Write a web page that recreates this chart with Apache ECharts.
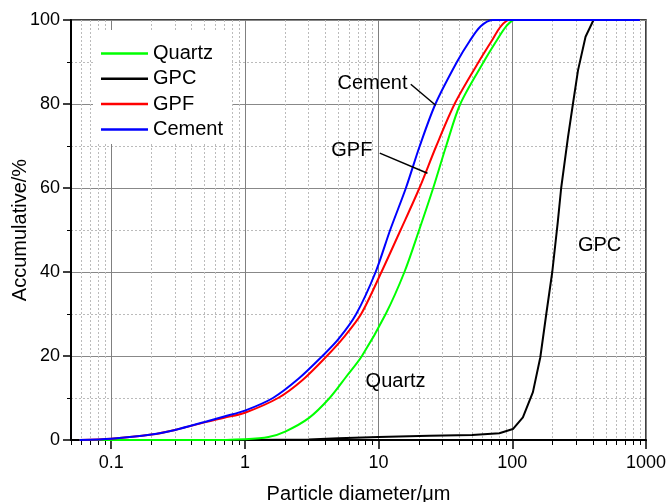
<!DOCTYPE html>
<html>
<head>
<meta charset="utf-8">
<script src="https://cdn.jsdelivr.net/npm/echarts@6/dist/echarts.min.js"></script>
<style>
  html, body { margin: 0; padding: 0; background: #fff; }
  #chart { width: 667px; height: 502px; }
</style>
</head>
<body>
<div id="chart"></div>
<script>
// particle size (um) vs cumulative %
const quartz = [[0.058, 0], [0.5, 0], [1, 0.2], [1.5, 0.7], [2, 2.0], [3, 5.2], [4.3, 10], [5.7, 15], [7.5, 20],
  [11.3, 30], [15.6, 40], [20.1, 50], [25.6, 60], [32, 70], [40.8, 80], [61, 90], [76, 95], [90, 98.5],
  [104, 100], [900, 100]];
const gpc = [[1, 0], [3, 0.1], [5, 0.4], [10, 0.7], [24, 1.0], [50, 1.2], [80, 1.6], [101, 2.6], [120, 5.4],
  [142.6, 11.4], [162, 19.7], [179.5, 30], [199, 40], [219, 52], [232, 60], [260.6, 72], [284, 80],
  [310, 88], [353, 96], [405, 100], [900, 100]];
const gpf = [[0.058, 0], [0.1, 0.3], [0.2, 1.3], [0.3, 2.4], [0.5, 4.2], [0.7, 5.3], [1, 6.5], [1.77, 10],
  [2.7, 14.3], [4.1, 20], [5.5, 24.5], [7.4, 30], [10.5, 40], [14.6, 50], [20.2, 60], [27, 70], [37, 80],
  [56, 90], [70, 95], [82, 98.5], [95, 100], [900, 100]];
const cement = [[0.058, 0], [0.1, 0.3], [0.2, 1.3], [0.3, 2.4], [0.5, 4.3], [0.7, 5.6], [1, 7.0], [1.62, 10],
  [2.5, 14.5], [3.8, 20], [5, 24], [6.8, 30], [9.5, 40], [12.2, 50], [16, 60], [20.3, 70], [26.6, 80],
  [38.5, 90], [48, 95], [58, 98.5], [71, 100], [900, 100]];

const seriesNames = ['Quartz', 'GPC', 'GPF', 'Cement'];
const majorTicks = [0.1, 1, 10, 100, 1000];
const minorTicks = [];
[0.01, 0.1, 1, 10, 100].forEach(d => {
  for (let k = 2; k <= 9; k++) {
    const v = +(d * k).toPrecision(3);
    if (v >= 0.05 && v <= 1000) minorTicks.push(v);
  }
});

// text labels and arrows, in data coordinates
const cementLabel = [9.0, 85.0];
const gpfLabel = [6.3, 69.0];
const quartzLabel = [13.4, 14.0];
const gpcLabel = [450, 46.3];
const cementArrow = [[17.4, 84.7], [26.7, 79.7]];
const gpfArrow = [[10.2, 68.3], [23.2, 63.5]];

const FONT = 'Liberation Sans, Arial, sans-serif';
const chart = echarts.init(document.getElementById('chart'));

const note = (pos, text) => ({
  symbol: 'circle', symbolSize: 0, silent: true,
  label: { show: true, position: 'inside', color: '#000', fontSize: 20, fontFamily: FONT },
  data: [{ coord: pos, value: text, label: { formatter: text } }]
});
const arrow = (pts) => ({
  silent: true, symbol: ['none', 'arrow'], symbolSize: [0, 10],
  label: { show: false },
  lineStyle: { color: '#000', width: 1.5, type: 'solid' },
  emphasis: { disabled: true },
  data: [[{ coord: pts[0] }, { coord: pts[1] }]]
});

const line = (name, data, color, smooth, extra) => Object.assign({
  name, type: 'line', data, smooth,
  symbol: 'none', showSymbol: false,
  lineStyle: { color, width: 2 }, itemStyle: { color },
  emphasis: { disabled: true },
  xAxisIndex: 0, yAxisIndex: 0
}, extra || {});

const gridBox = { left: 71, top: 20, right: 21, bottom: 62, containLabel: false, outerBoundsMode: 'none' };

chart.setOption({
  animation: false,
  textStyle: { fontFamily: FONT },
  grid: [
    Object.assign({ show: true, borderColor: '#000', borderWidth: 1.5, backgroundColor: 'transparent' }, gridBox),
    Object.assign({ show: false }, gridBox)
  ],
  legend: {
    data: seriesNames,
    orient: 'vertical',
    left: 93, top: 30,
    backgroundColor: '#fff',
    padding: [13, 9, 4, 8],
    icon: 'rect', itemWidth: 47, itemHeight: 2.5, itemGap: 4.3,
    textStyle: { fontSize: 20, color: '#000', fontFamily: FONT, lineHeight: 21 },
    selectedMode: false
  },
  xAxis: [
    {
      type: 'log', logBase: 10, min: 0.05, max: 1000, gridIndex: 0, position: 'bottom',
      name: 'Particle diameter/μm', nameLocation: 'middle', nameGap: 44, nameMoveOverlap: false,
      nameTextStyle: { fontSize: 20, color: '#000', fontFamily: FONT },
      axisLine: { show: true, onZero: false, lineStyle: { color: '#000', width: 2 } },
      axisTick: { show: true, inside: false, length: 9, customValues: majorTicks, lineStyle: { color: '#000', width: 1.5 } },
      axisLabel: { show: true, customValues: majorTicks, margin: 14, fontSize: 18, color: '#000', fontFamily: FONT,
        formatter: v => String(+v.toPrecision(3)) },
      splitLine: { show: true, lineStyle: { color: '#808080', width: 1 } }
    },
    {
      type: 'log', logBase: 10, min: 0.05, max: 1000, gridIndex: 1, position: 'bottom',
      axisLine: { show: false },
      axisTick: { show: true, inside: false, length: 5, customValues: minorTicks, lineStyle: { color: '#000', width: 1 } },
      axisLabel: { show: false },
      splitLine: { show: true, lineStyle: { color: '#bbb', width: 1, type: [2, 2] } }
    }
  ],
  yAxis: [
    {
      type: 'value', min: 0, max: 100, interval: 20, gridIndex: 0,
      name: 'Accumulative/%', nameLocation: 'middle', nameGap: 41, nameMoveOverlap: false,
      nameTextStyle: { fontSize: 20, color: '#000', fontFamily: FONT },
      axisLine: { show: true, lineStyle: { color: '#000', width: 2 } },
      axisTick: { show: true, length: 8, lineStyle: { color: '#000', width: 1.5 } },
      minorTick: { show: true, splitNumber: 2, length: 4, lineStyle: { color: '#000', width: 1 } },
      axisLabel: { margin: 11, fontSize: 18, color: '#000', fontFamily: FONT },
      splitLine: { show: true, lineStyle: { color: '#888', width: 1 } },
      minorSplitLine: { show: true, lineStyle: { color: '#bbb', width: 1, type: [2, 2] } }
    },
    { type: 'value', min: 0, max: 100, gridIndex: 1, show: false }
  ],
  series: [
    line('GPC', gpc, '#000', false, { markPoint: note(gpcLabel, 'GPC') }),
    line('Quartz', quartz, '#00ff00', 0.3, { markPoint: note(quartzLabel, 'Quartz') }),
    line('GPF', gpf, '#ff0000', 0.3, { markPoint: note(gpfLabel, 'GPF'), markLine: arrow(gpfArrow) }),
    line('Cement', cement, '#0000ff', 0.3, { markPoint: note(cementLabel, 'Cement'), markLine: arrow(cementArrow) })
  ]
});
</script>
</body>
</html>
